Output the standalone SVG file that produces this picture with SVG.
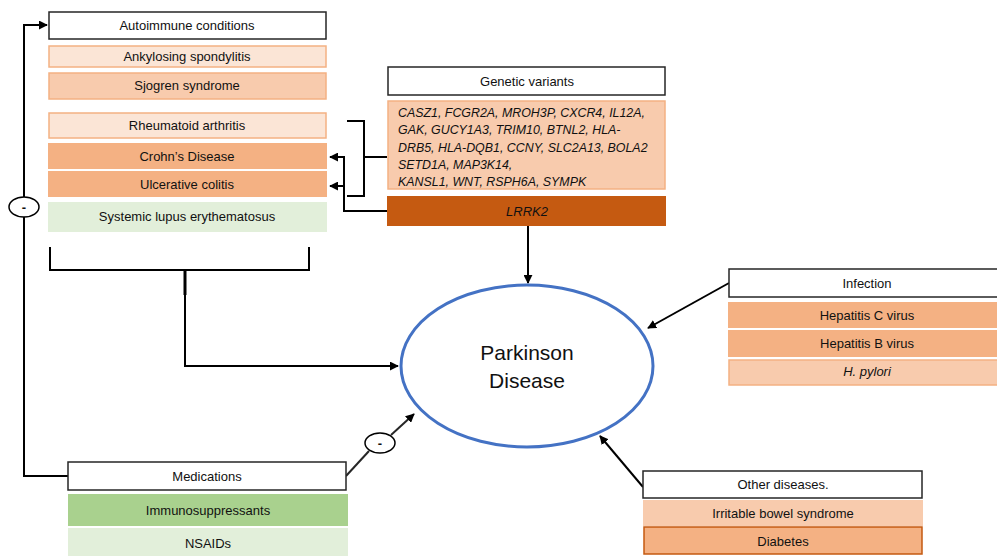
<svg xmlns="http://www.w3.org/2000/svg" width="997" height="556" viewBox="0 0 997 556">
<defs>
<marker id="ah" viewBox="0 0 10 10" refX="9" refY="5" markerWidth="4.5" markerHeight="4.5" orient="auto-start-reverse" markerUnits="strokeWidth">
<path d="M0,0 L10,5 L0,10 z" fill="#000"/>
</marker>
<style>
text{font-family:"Liberation Sans",Arial,sans-serif;font-size:13px;fill:#111;text-anchor:middle}
.hdr{fill:#fff;stroke:#262626;stroke-width:1.5}
.lt{fill:#fbe5d6;stroke:#f4b183;stroke-width:1.5}
.md{fill:#f8cbad;stroke:#f4b183;stroke-width:1.5}
.dk{fill:#f4b183}
.dk2{fill:#f4b183;stroke:#c55a11;stroke-width:1.5}
.rust{fill:#c55a11}
.gl{fill:#e2efda}
.gm{fill:#a9d18e}
.ln{fill:none;stroke:#000;stroke-width:2}
.it{font-style:italic}
.gene{font-style:italic;text-anchor:start;font-size:12.4px}
</style>
</defs>
<rect width="997" height="556" fill="#fff"/>
<g id="connectors">
<polyline class="ln" points="68,476 24,476 24,25 47,25" marker-end="url(#ah)"/>
<polyline class="ln" points="50,247 50,270 309,270 309,247"/>
<polyline class="ln" points="185,270 185,366 398,366" marker-end="url(#ah)"/>
<line x1="185" y1="270" x2="185" y2="295" stroke="#000" stroke-width="3"/>
<polyline class="ln" points="347,121 364,121 364,196 347,196"/>
<line class="ln" x1="364" y1="157" x2="387" y2="157"/>
<polyline class="ln" points="388,211 344,211 344,157 330,157" marker-end="url(#ah)"/>
<line class="ln" x1="344" y1="186" x2="330" y2="186" marker-end="url(#ah)"/>
<line class="ln" x1="528" y1="226" x2="528" y2="283" marker-end="url(#ah)"/>
<line class="ln" x1="729" y1="283" x2="648" y2="328" marker-end="url(#ah)"/>
<line class="ln" x1="643" y1="487" x2="600" y2="436" marker-end="url(#ah)"/>
<line x1="346" y1="476" x2="369" y2="451" stroke="#262626" stroke-width="2"/>
<line x1="391" y1="435" x2="414" y2="414" stroke="#262626" stroke-width="2" marker-end="url(#ah)"/>
<ellipse cx="24" cy="207" rx="15" ry="10" fill="#fff" stroke="#000" stroke-width="1.5"/>
<text x="24" y="212" font-weight="bold">-</text>
<ellipse cx="380" cy="443" rx="15" ry="10" fill="#fff" stroke="#000" stroke-width="1.5"/>
<text x="380" y="448" font-weight="bold">-</text>
</g>
<g id="pd">
<ellipse cx="527" cy="366" rx="126" ry="81" fill="#fff" stroke="#4472c4" stroke-width="3"/>
<text x="527" y="360" style="font-size:21px">Parkinson</text>
<text x="527" y="388" style="font-size:21px">Disease</text>
</g>
<g id="autoimmune">
<rect class="hdr" x="49" y="12" width="277" height="27"/>
<text x="187" y="30">Autoimmune conditions</text>
<rect class="lt" x="49" y="46" width="277" height="21"/>
<text x="187" y="61">Ankylosing spondylitis</text>
<rect class="md" x="49" y="73" width="277" height="26"/>
<text x="187" y="90">Sjogren syndrome</text>
<rect class="lt" x="49" y="113" width="277" height="25"/>
<text x="187" y="130">Rheumatoid arthritis</text>
<rect class="dk" x="48" y="143" width="279" height="26"/>
<text x="187" y="161">Crohn’s Disease</text>
<rect class="dk" x="48" y="171" width="279" height="26"/>
<text x="187" y="189">Ulcerative colitis</text>
<rect class="gl" x="48" y="202" width="279" height="30"/>
<text x="187" y="221">Systemic lupus erythematosus</text>
</g>
<g id="genetic">
<rect class="hdr" x="388" y="67" width="277" height="28"/>
<text x="527" y="86">Genetic variants</text>
<rect class="md" x="388" y="101" width="277" height="88"/>
<text class="gene" x="398" y="117">CASZ1, FCGR2A, MROH3P, CXCR4, IL12A,</text>
<text class="gene" x="398" y="134">GAK, GUCY1A3, TRIM10, BTNL2, HLA-</text>
<text class="gene" x="398" y="152">DRB5, HLA-DQB1, CCNY, SLC2A13, BOLA2</text>
<text class="gene" x="398" y="169">SETD1A, MAP3K14,</text>
<text class="gene" x="398" y="186">KANSL1, WNT, RSPH6A, SYMPK</text>
<rect class="rust" x="387" y="196" width="279" height="30"/>
<text class="it" x="527" y="216">LRRK2</text>
</g>
<g id="infection">
<rect class="hdr" x="729" y="269" width="270" height="28"/>
<text x="867" y="288">Infection</text>
<rect class="dk" x="728" y="302" width="271" height="26"/>
<text x="867" y="320">Hepatitis C virus</text>
<rect class="dk" x="728" y="330" width="271" height="27"/>
<text x="867" y="348">Hepatitis B virus</text>
<rect class="md" x="729" y="360" width="270" height="25"/>
<text class="it" x="867" y="376">H. pylori</text>
</g>
<g id="other">
<rect class="hdr" x="643" y="471" width="279" height="27"/>
<text x="783" y="489">Other diseases.</text>
<rect fill="#f8cbad" x="643" y="500" width="280" height="26"/>
<text x="783" y="518">Irritable bowel syndrome</text>
<rect class="dk2" x="644" y="527" width="278" height="27"/>
<text x="783" y="546">Diabetes</text>
</g>
<g id="medications">
<rect class="hdr" x="68" y="462" width="278" height="28"/>
<text x="207" y="481">Medications</text>
<rect class="gm" x="68" y="494" width="280" height="32"/>
<text x="208" y="515">Immunosuppressants</text>
<rect class="gl" x="68" y="528" width="280" height="28"/>
<text x="208" y="548">NSAIDs</text>
</g>
</svg>
